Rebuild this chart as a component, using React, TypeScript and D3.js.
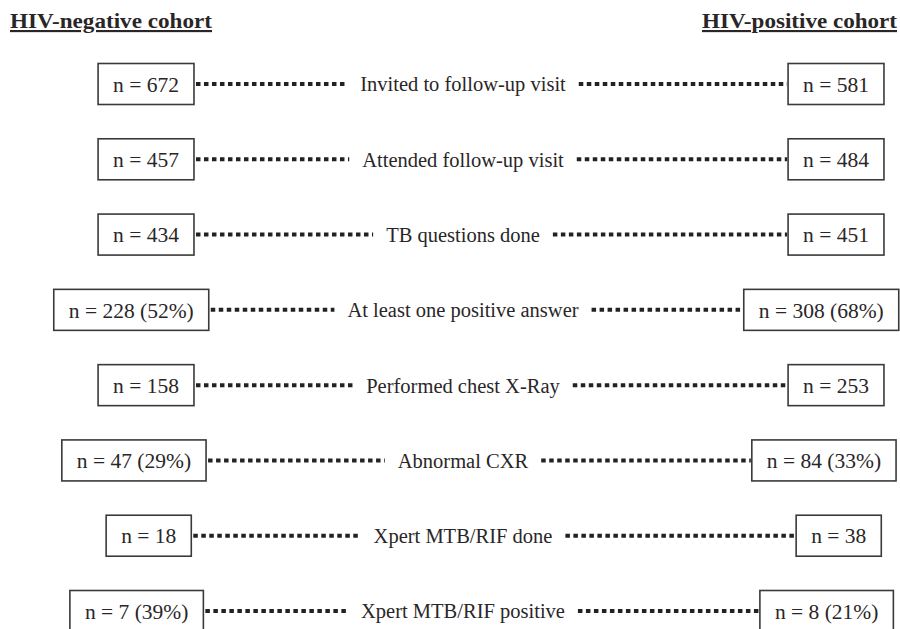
import { useEffect, useRef } from 'react';
import * as d3 from 'd3';

// Flow stages (middle column)
const STAGES = [
  'Invited to follow-up visit',
  'Attended follow-up visit',
  'TB questions done',
  'At least one positive answer',
  'Performed chest X-Ray',
  'Abnormal CXR',
  'Xpert MTB/RIF done',
  'Xpert MTB/RIF positive',
];

// HIV-negative cohort counts and percentages
const NEG_N = [672, 457, 434, 228, 158, 47, 18, 7];
const NEG_PCT: (number | null)[] = [null, null, null, 52, null, 29, null, 39];

// HIV-positive cohort counts and percentages
const POS_N = [581, 484, 451, 308, 253, 84, 38, 8];
const POS_PCT: (number | null)[] = [null, null, null, 68, null, 33, null, 21];

const HEADERS = ['HIV-negative cohort', 'HIV-positive cohort'];

const fmt = (n: number, p: number | null) => (p == null ? `n = ${n}` : `n = ${n} (${p}%)`);

export default function App() {
  const svgRef = useRef<SVGSVGElement>(null);

  useEffect(() => {
    if (!svgRef.current) return;
    const svg = d3.select(svgRef.current);
    svg.selectAll('*').remove();

    const font = '"Liberation Serif", "Times New Roman", serif';
    const ink = '#2a2627';

    const boxH = 41;
    const pad = 15;
    const leftAnchor = 170;
    const rightAnchor = 860;
    const labelX = 463;
    const gap = 13;

    const y = d3.scalePoint<string>().domain(STAGES).range([84, 611]);

    const g = svg.append('g').attr('font-family', font).attr('fill', ink);

    // Column headers
    g.append('text')
      .attr('x', 10)
      .attr('y', 28)
      .attr('font-size', 21.5)
      .attr('font-weight', 'bold')
      .attr('text-decoration', 'underline')
      .attr('textLength', 202)
      .attr('lengthAdjust', 'spacingAndGlyphs')
      .text(HEADERS[0]);

    g.append('text')
      .attr('x', 897)
      .attr('y', 28)
      .attr('text-anchor', 'end')
      .attr('font-size', 21.5)
      .attr('font-weight', 'bold')
      .attr('text-decoration', 'underline')
      .attr('textLength', 195)
      .attr('lengthAdjust', 'spacingAndGlyphs')
      .text(HEADERS[1]);

    const drawBox = (row: d3.Selection<SVGGElement, unknown, null, undefined>, label: string, anchor: number) => {
      const t = row.append('text')
        .attr('font-size', 21.5)
        .attr('dy', '0.36em')
        .attr('text-anchor', 'middle')
        .text(label);
      const w = (t.node() as SVGTextElement).getComputedTextLength();
      const boxW = w + pad * 2;
      const x0 = anchor - boxW * 0.75;
      t.attr('x', x0 + boxW / 2);
      row.insert('rect', 'text')
        .attr('x', x0)
        .attr('y', -boxH / 2)
        .attr('width', boxW)
        .attr('height', boxH)
        .attr('fill', '#fff')
        .attr('stroke', '#3a3a3a')
        .attr('stroke-width', 1.6);
      return [x0, x0 + boxW];
    };

    STAGES.forEach((stage, i) => {
      const row = g.append('g').attr('transform', `translate(0,${y(stage)})`);

      const lab = row.append('text')
        .attr('x', labelX)
        .attr('dy', '0.36em')
        .attr('text-anchor', 'middle')
        .attr('font-size', 20.5)
        .text(stage);
      const lw = (lab.node() as SVGTextElement).getComputedTextLength();

      const [, negRight] = drawBox(row, fmt(NEG_N[i], NEG_PCT[i]), leftAnchor);
      const [posLeft] = drawBox(row, fmt(POS_N[i], POS_PCT[i]), rightAnchor);

      const dots = [
        [negRight + 2, labelX - lw / 2 - gap],
        [labelX + lw / 2 + gap, posLeft - 1],
      ];
      dots.forEach(([x1, x2]) => {
        row.append('line')
          .attr('x1', x1)
          .attr('x2', x2)
          .attr('y1', 0)
          .attr('y2', 0)
          .attr('stroke', '#222')
          .attr('stroke-width', 4)
          .attr('stroke-dasharray', '4.5,3.5');
      });
    });
  }, []);

  return (
    <svg
      ref={svgRef}
      width={900}
      height={629}
      style={{ position: 'absolute', left: 0, top: 0, background: '#fff' }}
    />
  );
}
